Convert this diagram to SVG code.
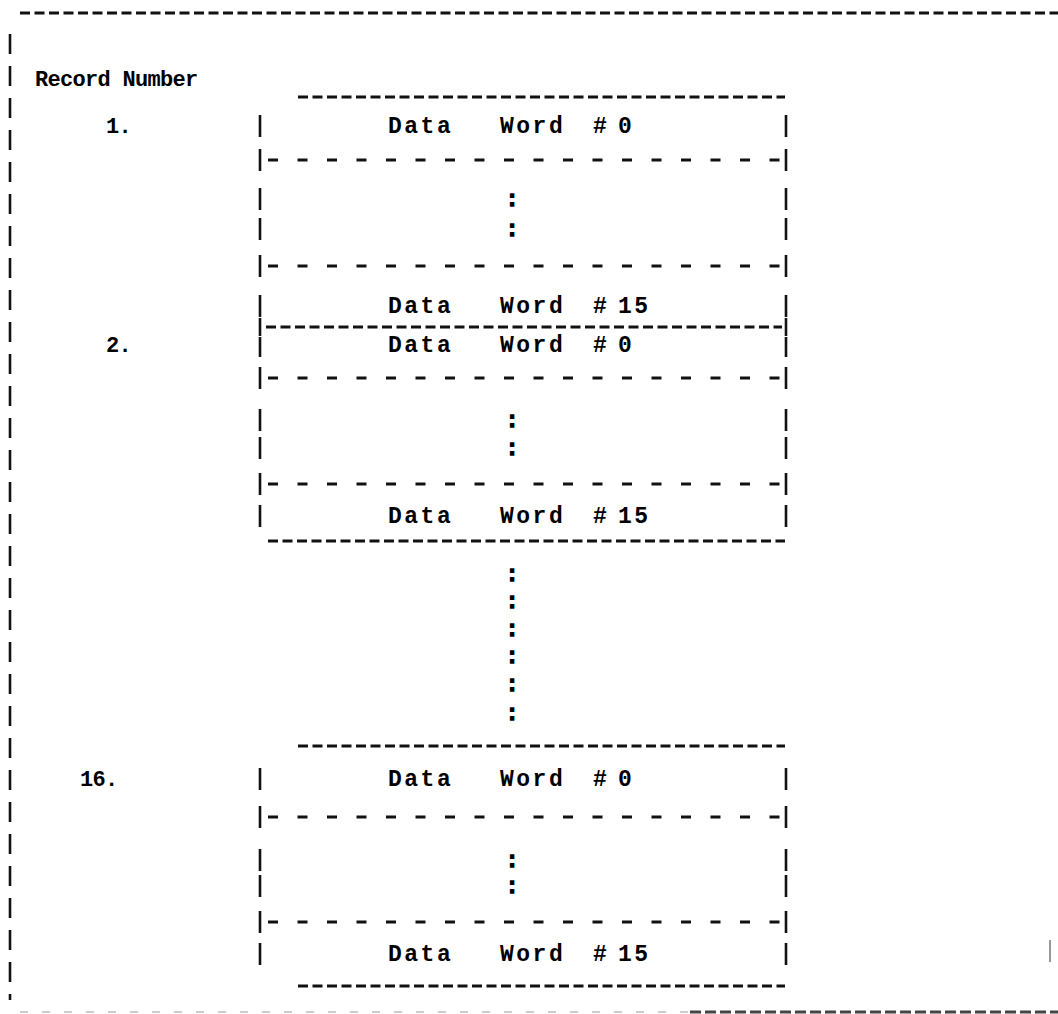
<svg xmlns="http://www.w3.org/2000/svg" width="1058" height="1014" viewBox="0 0 1058 1014">
<style>
.t{font-family:"Liberation Mono","DejaVu Sans Mono",monospace;font-weight:bold;font-size:22px;letter-spacing:-0.7px;fill:#000}
.w{font-family:"Liberation Mono","DejaVu Sans Mono",monospace;font-weight:bold;font-size:23px;letter-spacing:2.5px;fill:#000}
.c{font-family:"Liberation Mono","DejaVu Sans Mono",monospace;font-weight:bold;font-size:22px;fill:#000;stroke:#000;stroke-width:1.3px;text-anchor:middle}
.full{stroke:#111;stroke-width:3;stroke-dasharray:10 4.5;fill:none}
.half{stroke:#111;stroke-width:3;stroke-dasharray:10 19.5;fill:none}
.bar{stroke:#111;stroke-width:2.6;fill:none}
.pbar{stroke:#111;stroke-width:2.6;stroke-dasharray:20 12;fill:none}
</style>
<rect width="1058" height="1014" fill="#fff"/>
<g id="page-frame">
<line class="full" x1="20" y1="13" x2="1058" y2="13"/>
<line class="pbar" x1="10" y1="34" x2="10" y2="1000"/>
<line x1="1050" y1="940" x2="1050" y2="962" stroke="#999" stroke-width="2"/>
<line x1="690" y1="1012" x2="1058" y2="1012" stroke="#444" stroke-width="3" stroke-dasharray="11 4"/>
<line x1="20" y1="1012" x2="690" y2="1012" stroke="#ccc" stroke-width="2" stroke-dasharray="8 14"/>
</g>
<g id="header">
<text class="t" x="35" y="86">Record Number</text>
</g>
<g id="record-1">
<text class="t" x="106" y="133">1.</text>
<line class="full" x1="298" y1="97" x2="785" y2="97"/>
<path class="bar" d="M260 115V137M260 149V171M260 188V210M260 218V240M260 255V277M260 295V317M260 318V336M786 115V137M786 149V171M786 188V210M786 218V240M786 255V277M786 295V317M786 318V336"/>
<text class="w" x="388" y="133">Data <tspan x="500">Word </tspan><tspan x="593">#</tspan><tspan x="618">0</tspan></text>
<line class="half" x1="268" y1="160" x2="782" y2="160"/>
<text class="c" x="512" y="206">:</text>
<text class="c" x="512" y="236">:</text>
<line class="half" x1="268" y1="266" x2="782" y2="266"/>
<text class="w" x="388" y="313">Data <tspan x="500">Word </tspan><tspan x="593">#</tspan><tspan x="618">15</tspan></text>
<line class="full" x1="266" y1="327" x2="782" y2="327"/>
</g>
<g id="record-2">
<text class="t" x="106" y="352">2.</text>
<path class="bar" d="M260 337V357M260 367V389M260 409V431M260 437V459M260 473V495M260 505V527M786 337V357M786 367V389M786 409V431M786 437V459M786 473V495M786 505V527"/>
<text class="w" x="388" y="352">Data <tspan x="500">Word </tspan><tspan x="593">#</tspan><tspan x="618">0</tspan></text>
<line class="half" x1="268" y1="378" x2="782" y2="378"/>
<text class="c" x="512" y="427">:</text>
<text class="c" x="512" y="455">:</text>
<line class="half" x1="268" y1="484" x2="782" y2="484"/>
<text class="w" x="388" y="523">Data <tspan x="500">Word </tspan><tspan x="593">#</tspan><tspan x="618">15</tspan></text>
<line class="full" x1="268" y1="541" x2="785" y2="541"/>
</g>
<g id="ellipsis">
<text class="c" x="512" y="581">:</text>
<text class="c" x="512" y="608">:</text>
<text class="c" x="512" y="636">:</text>
<text class="c" x="512" y="663">:</text>
<text class="c" x="512" y="691">:</text>
<text class="c" x="512" y="720">:</text>
</g>
<g id="record-16">
<text class="t" x="80" y="786">16.</text>
<line class="full" x1="298" y1="746" x2="785" y2="746"/>
<path class="bar" d="M260 768V790M260 806V828M260 849V871M260 875V897M260 911V933M260 943V965M786 768V790M786 806V828M786 849V871M786 875V897M786 911V933M786 943V965"/>
<text class="w" x="388" y="786">Data <tspan x="500">Word </tspan><tspan x="593">#</tspan><tspan x="618">0</tspan></text>
<line class="half" x1="268" y1="817" x2="782" y2="817"/>
<text class="c" x="512" y="867">:</text>
<text class="c" x="512" y="893">:</text>
<line class="half" x1="268" y1="922" x2="782" y2="922"/>
<text class="w" x="388" y="961">Data <tspan x="500">Word </tspan><tspan x="593">#</tspan><tspan x="618">15</tspan></text>
<line class="full" x1="298" y1="986" x2="785" y2="986"/>
</g>
</svg>
